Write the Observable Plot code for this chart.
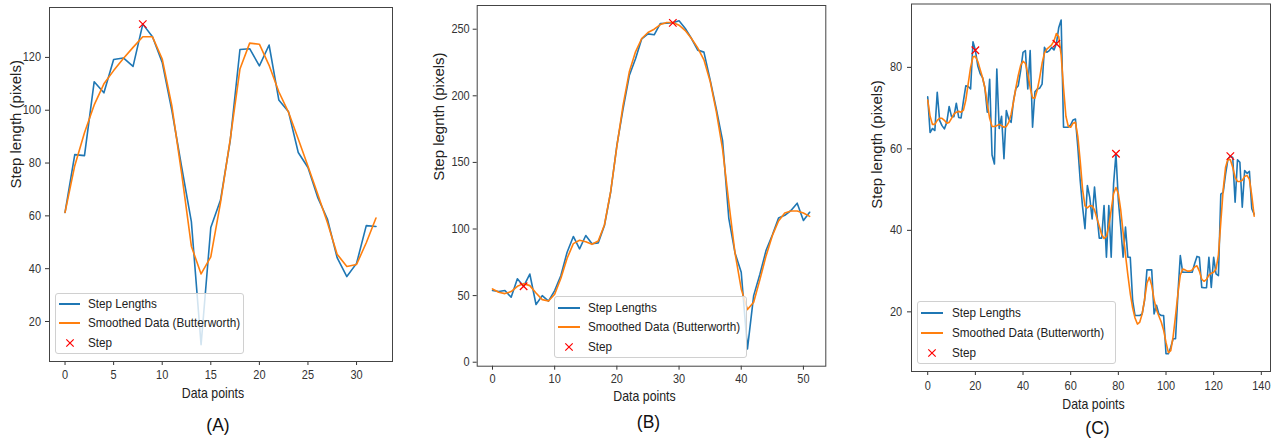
<!DOCTYPE html>
<html>
<head>
<meta charset="utf-8">
<script src="https://cdn.jsdelivr.net/npm/d3@7"></script>
<script src="https://cdn.jsdelivr.net/npm/@observablehq/plot@0.6"></script>
<style>
  html, body { margin: 0; padding: 0; background: #fff; }
  #root { position: relative; width: 1273px; height: 443px; overflow: hidden; background: #fff;
          font-family: "Liberation Sans", Arial, sans-serif; }
  .panel { position: absolute; top: 0; }
  .legend { position: absolute; box-sizing: border-box; border: 1px solid #d0d0d0; border-radius: 3px;
            background: rgba(255,255,255,0.8); font-size: 13px; color: #222; }
  .legend .row { position: absolute; left: 0; right: 0; height: 0; }
  .legend .txt { position: absolute; top: 0; white-space: nowrap; line-height: 14px;
                 transform: translateY(-50%) scaleX(0.9); transform-origin: 0 50%; }
  .legend .ln { position: absolute; height: 2px; transform: translateY(-50%); }
  .legend svg { position: absolute; overflow: visible; }
</style>
</head>
<body>
<div id="root"></div>
<script>
// ---------------- data ----------------
const legendLabels = ["Step Lengths", "Smoothed Data (Butterworth)", "Step"];
const xLabel = "Data points";
const yLabelA = "Step length (pixels)";
const yLabelB = "Step legnth (pixels)";
const yLabelC = "Step length (pixels)";
const captions = ["(A)", "(B)", "(C)"];

const stepA = [61.3, 83.2, 82.8, 110.8, 106.6, 119.2, 119.8, 116.6, 132.6, 127.8, 118.1, 99.8, 78.5, 57.8, 11.2,
  55.6, 66.0, 88.5, 123.0, 123.3, 116.8, 124.7, 103.9, 99.4, 84.0, 78.3, 67.0, 58.8, 44.2, 37.0, 42.0, 56.3, 56.0];
const smoothA = [61.3, 79.0, 91.5, 102.0, 110.0, 115.0, 119.6, 123.8, 127.8, 127.8, 119.4, 101.5, 76.0, 48.5, 38.0,
  44.5, 65.0, 89.0, 115.6, 125.4, 125.0, 117.0, 107.0, 99.2, 89.1, 78.8, 68.3, 57.5, 45.5, 40.8, 41.6, 49.8, 59.2];
const peaksA = [8];
const xTicksA = [0, 5, 10, 15, 20, 25, 30];
const yTicksA = [20, 40, 60, 80, 100, 120];

const stepB = [53.8, 53.1, 53.8, 48.8, 62.6, 57.0, 66.2, 43.3, 50.0, 45.8, 53.8, 65.1, 82.6, 94.4, 85.1, 95.1, 88.9,
  89.6, 102.6, 127.6, 162.7, 190.2, 215.2, 227.8, 242.8, 246.5, 245.8, 254.3, 254.5, 254.8, 256.3, 250.5, 243.0, 234.3,
  232.8, 212.0, 190.0, 166.4, 108.0, 82.0, 67.5, 10.0, 50.0, 66.0, 84.0, 95.5, 108.3, 110.3, 113.9, 119.4, 106.4, 112.6];
const smoothB = [55.0, 52.5, 51.5, 53.0, 57.0, 59.0, 57.5, 52.0, 47.0, 46.0, 51.0, 63.0, 78.0, 89.0, 91.5, 90.5, 88.5,
  91.0, 103.0, 128.0, 162.0, 193.0, 218.0, 233.0, 243.0, 247.5, 250.0, 253.5, 255.0, 255.0, 253.0, 249.0, 243.0, 236.0,
  227.0, 211.0, 188.0, 160.0, 120.0, 82.0, 55.0, 39.5, 45.0, 62.0, 80.0, 95.0, 106.0, 112.0, 113.5, 113.5, 112.0, 109.5];
const peaksB = [5, 29];
const xTicksB = [0, 10, 20, 30, 40, 50];
const yTicksB = [0, 50, 100, 150, 200, 250];

const stepC = [72.8, 64.0, 65.0, 64.5, 73.9, 67.0, 65.7, 64.9, 66.5, 70.4, 67.9, 67.9, 71.2, 67.7, 67.6, 71.8, 75.5,
  75.3, 74.7, 86.3, 84.2, 80.4, 78.5, 77.5, 75.0, 69.0, 77.1, 58.5, 56.3, 79.6, 65.0, 68.0, 57.6, 69.4, 67.3, 66.5,
  71.8, 74.8, 75.5, 79.2, 83.7, 84.1, 74.7, 84.1, 65.3, 74.0, 74.7, 74.9, 75.9, 84.9, 83.7, 84.1, 84.9, 84.3, 85.8,
  89.8, 91.6, 65.3, 65.3, 65.3, 65.9, 67.1, 67.3, 60.4, 52.2, 45.7, 40.4, 51.0, 48.1, 42.8, 50.6, 44.0, 38.1, 38.1,
  46.1, 33.4, 46.1, 33.4, 51.4, 58.8, 47.3, 40.8, 33.4, 40.8, 33.4, 33.4, 22.8, 19.1, 19.1, 19.1, 19.5, 22.8, 30.3,
  30.3, 30.3, 19.5, 21.6, 19.5, 19.1, 19.1, 9.7, 9.7, 11.3, 13.4, 13.4, 24.4, 33.8, 29.7, 29.7, 29.7, 29.7, 29.7,
  31.8, 33.6, 33.4, 26.0, 25.9, 25.9, 33.4, 26.0, 33.4, 29.3, 28.9, 48.9, 49.3, 53.8, 57.5, 58.2, 57.9, 46.9, 57.3,
  56.7, 45.7, 54.7, 54.0, 54.5, 45.3, 44.0];
const smoothC = [72.0, 68.0, 66.0, 66.0, 67.0, 67.5, 67.5, 67.0, 66.3, 66.5, 67.5, 68.5, 69.0, 69.2, 69.0, 69.5, 72.0,
  76.0, 80.0, 82.6, 82.7, 81.5, 79.5, 77.5, 75.0, 71.0, 67.5, 65.5, 65.5, 65.7, 66.0, 65.7, 65.3, 65.5, 66.5, 68.5,
  71.5, 75.0, 78.0, 80.5, 81.5, 81.0, 78.5, 75.0, 72.5, 72.5, 74.5, 77.5, 81.0, 83.5, 84.5, 85.0, 85.5, 86.5, 88.3,
  87.5, 83.0, 75.0, 68.0, 65.5, 65.3, 66.3, 66.5, 63.0, 57.0, 50.0, 46.0, 45.5, 46.0, 46.0, 45.0, 43.0, 41.0, 39.0,
  38.0, 38.5, 41.0, 45.0, 49.0, 50.5, 49.0, 45.0, 39.5, 34.0, 29.0, 24.5, 21.0, 18.5, 17.0, 17.5, 19.5, 23.0, 27.0,
  28.5, 26.5, 23.0, 20.5, 19.0, 17.5, 15.5, 12.5, 10.0, 10.5, 14.0, 19.0, 24.5, 29.0, 30.5, 30.3, 30.0, 30.0, 30.3,
  31.0, 31.3, 30.0, 28.0, 27.5, 28.0, 29.0, 29.5, 29.7, 30.5, 34.0, 42.0, 50.0, 55.5, 57.5, 57.3, 55.5, 53.0, 52.0,
  52.0, 52.3, 53.2, 53.5, 52.5, 48.5, 43.5];
const peaksC = [20, 54, 79, 127];
const xTicksC = [0, 20, 40, 60, 80, 100, 120, 140];
const yTicksC = [20, 40, 60, 80];

// ---------------- rendering ----------------
const BLUE = "#1f77b4", ORANGE = "#ff7f0e", RED = "#ff0000";
const FONT = "'Liberation Sans', Arial, sans-serif";
const root = document.getElementById("root");

// narrow horizontal text a little, as in the (horizontally squeezed) reference image
function squeeze(t, k) {
  const len = t.getComputedTextLength();
  if (len > 0) {
    t.setAttribute("textLength", (len * k).toFixed(2));
    t.setAttribute("lengthAdjust", "spacingAndGlyphs");
  }
}

function panel(cfg) {
  const rows = cfg.step.map((v, i) => ({i, step: v, smooth: cfg.smooth[i]}));
  const peaks = cfg.peaks.map(i => ({i, v: cfg.step[i]}));
  const chart = Plot.plot({
    width: cfg.width, height: 443,
    marginLeft: cfg.ml, marginRight: cfg.mr, marginTop: cfg.mt, marginBottom: cfg.mb,
    style: {fontFamily: FONT, fontSize: "12.6px", color: "#333", background: "transparent", overflow: "visible"},
    x: {domain: cfg.xDomain, label: null},
    y: {domain: cfg.yDomain, label: null},
    marks: [
      Plot.axisX(cfg.xTicks, {tickSize: 4, tickPadding: cfg.xPad, tickFormat: d => String(d), label: null, fontSize: 12.6}),
      Plot.axisY(cfg.yTicks, {tickSize: 4, tickPadding: cfg.yPad, tickFormat: d => String(d), label: null, fontSize: 12.6}),
      Plot.line(rows, {x: "i", y: "step", stroke: BLUE, strokeWidth: 1.6}),
      Plot.line(rows, {x: "i", y: "smooth", stroke: ORANGE, strokeWidth: 1.6}),
      Plot.dot(peaks, {x: "i", y: "v", symbol: "times", r: 3.5, stroke: RED, strokeWidth: 1.2}),
      Plot.frame({stroke: "#444", strokeWidth: 1}),
      Plot.text([xLabel], {frameAnchor: "bottom", dx: cfg.xlDx, dy: cfg.xlDy, fontSize: 14.5, fill: "#222"}),
      Plot.text([cfg.yLabel], {frameAnchor: "left", rotate: -90, dx: cfg.ylDx, dy: cfg.ylDy, fontSize: 15, fill: "#222"}),
      Plot.text([cfg.caption], {frameAnchor: "bottom", dx: cfg.capDx, dy: cfg.capDy, fontSize: 17.5, fill: "#111"})
    ]
  });
  chart.classList.add("panel");
  chart.style.left = cfg.left + "px";
  root.appendChild(chart);

  chart.querySelectorAll('g[aria-label="x-axis tick label"] text, g[aria-label="y-axis tick label"] text')
    .forEach(t => squeeze(t, 0.87));
  chart.querySelectorAll("text").forEach(t => { if (t.textContent === xLabel) squeeze(t, 0.85); });

  // legend (matplotlib style, semi-transparent box)
  const lg = document.createElement("div");
  lg.className = "legend";
  Object.assign(lg.style, {left: cfg.lg.x + "px", top: cfg.lg.y + "px", width: cfg.lg.w + "px", height: cfg.lg.h + "px"});
  const colors = [BLUE, ORANGE, null];
  legendLabels.forEach((lab, k) => {
    const row = document.createElement("div");
    row.className = "row";
    row.style.top = cfg.lg.rows[k] + "px";
    if (colors[k]) {
      const ln = document.createElement("div");
      ln.className = "ln";
      Object.assign(ln.style, {left: cfg.lg.sx + "px", width: cfg.lg.sw + "px", background: colors[k]});
      row.appendChild(ln);
    } else {
      const cx = cfg.lg.sx + cfg.lg.sw / 2;
      const s = document.createElementNS("http://www.w3.org/2000/svg", "svg");
      s.setAttribute("width", 8); s.setAttribute("height", 8);
      s.style.left = (cx - 4) + "px"; s.style.top = "-4px";
      s.innerHTML = '<path d="M0.3,0.3L7.7,7.7M0.3,7.7L7.7,0.3" stroke="' + RED + '" stroke-width="1.2"/>';
      row.appendChild(s);
    }
    const t = document.createElement("div");
    t.className = "txt";
    t.style.left = cfg.lg.tx + "px";
    t.textContent = lab;
    row.appendChild(t);
    lg.appendChild(row);
  });
  root.appendChild(lg);
}

panel({
  left: 0, width: 420, ml: 49, mr: 28, mt: 7, mb: 82,
  xDomain: [-1.6, 33.7], yDomain: [4.85, 138.9], xTicks: xTicksA, yTicks: yTicksA, xPad: 5, yPad: 4.5,
  step: stepA, smooth: smoothA, peaks: peaksA, yLabel: yLabelA, caption: captions[0],
  xlDx: -8, xlDy: 36, ylDx: -33, ylDy: 4, capDx: -3, capDy: 69,
  lg: {x: 55, y: 293, w: 189, h: 61, sx: 3, sw: 21, tx: 32, rows: [10, 29, 49]}
});
panel({
  left: 420, width: 420, ml: 56.7, mr: 14.7, mt: 5, mb: 77.3,
  xDomain: [-2.46, 53.6], yDomain: [-3.0, 267.8], xTicks: xTicksB, yTicks: yTicksB, xPad: 4, yPad: 3.5,
  step: stepB, smooth: smoothB, peaks: peaksB, yLabel: yLabelB, caption: captions[1],
  xlDx: -7, xlDy: 35, ylDx: -38, ylDy: -5, capDx: -3, capDy: 62,
  lg: {x: 554, y: 296, w: 193, h: 62, sx: 3, sw: 22, tx: 33, rows: [11, 30, 50]}
});
panel({
  left: 840, width: 433, ml: 71, mr: 3, mt: 3.5, mb: 72,
  xDomain: [-6.8, 143.85], yDomain: [5.36, 95.55], xTicks: xTicksC, yTicks: yTicksC, xPad: 6, yPad: 5.3,
  step: stepC, smooth: smoothC, peaks: peaksC, yLabel: yLabelC, caption: captions[2],
  xlDx: 2.5, xlDy: 37, ylDx: -34, ylDy: 21, capDx: 6.5, capDy: 62,
  lg: {x: 917, y: 301, w: 199, h: 63, sx: 3, sw: 22, tx: 34, rows: [11, 31, 51]}
});
</script>
</body>
</html>
